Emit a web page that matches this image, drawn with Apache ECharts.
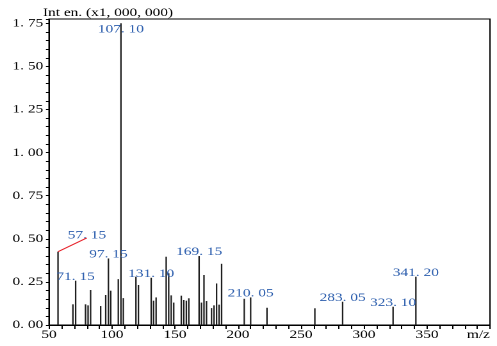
<!DOCTYPE html>
<html>
<head>
<meta charset="utf-8">
<script src="https://cdn.jsdelivr.net/npm/echarts@6/dist/echarts.min.js"></script>
<style>
  html, body { margin: 0; padding: 0; background: #fff; overflow: hidden; }
  /* the chart is laid out narrow and widened horizontally, giving the wide serif look */
  #chart { width: 388px; height: 346px; transform: scaleX(1.2809); transform-origin: 0 0; }
</style>
</head>
<body>
<div id="chart"></div>
<script>
// Mass spectrum peaks: m/z and intensity (x1,000,000)
const mzValues = [
  57.15, 69, 71.15, 79, 81, 83, 91, 95, 97.15, 99,
  105, 107.10, 109, 119, 121, 131.10, 133, 135, 143, 145,
  147, 149, 155, 157, 159, 161, 169.15, 171, 173, 175,
  179, 181, 183, 185, 187, 205, 210.05, 223, 261, 283.05,
  323.10, 341.20
];
const intensities = [
  0.425, 0.12, 0.257, 0.12, 0.114, 0.203, 0.11, 0.174, 0.386, 0.199,
  0.266, 1.75, 0.156, 0.28, 0.232, 0.274, 0.141, 0.16, 0.396, 0.30,
  0.172, 0.13, 0.17, 0.145, 0.141, 0.155, 0.40, 0.13, 0.29, 0.139,
  0.098, 0.114, 0.241, 0.118, 0.355, 0.152, 0.16, 0.10, 0.097, 0.135,
  0.106, 0.28
];
// peaks annotated with their m/z
const labeledPeaks = [57.15, 71.15, 97.15, 107.10, 131.10, 169.15, 210.05, 283.05, 323.10, 341.20];
// the 57.15 annotation sits up and to the right, joined by a red leader
const leaderPeak = 57.15;
const leaderEnd = [80, 0.505];
// the base peak label is drawn just under the top of its line
const basePeak = 107.10;

const xTicks = { min: 50, max: 400, step: 50 };
const yTicks = { min: 0, max: 1.775, step: 0.25 };

const serif = 'Times New Roman, Liberation Serif, serif';
const labelBlue = '#2c5eae';

const fmtMz = v => v.toFixed(2).replace('.', '. ');

const barData = mzValues.map((m, i) => {
  const item = { value: [m, intensities[i]] };
  const isLabeled = labeledPeaks.indexOf(m) >= 0;
  if (!isLabeled) {
    item.label = { show: false };
  } else if (m === leaderPeak) {
    item.label = { show: true, offset: [22.6, -12.6] };
  } else if (m === basePeak) {
    item.label = { show: true, distance: -12 };
  }
  return item;
});

const leaderIdx = mzValues.indexOf(leaderPeak);
const leaderData = [[mzValues[leaderIdx], intensities[leaderIdx]], leaderEnd];

const chart = echarts.init(document.getElementById('chart'), null, { renderer: 'canvas', devicePixelRatio: 2 });
chart.setOption({
  animation: false,
  backgroundColor: '#fff',
  title: {
    text: 'Int en. (x1, 000, 000)',
    left: 33.5, top: 7, padding: 0,
    textStyle: { fontFamily: serif, fontSize: 12, fontWeight: 'normal', color: '#000' }
  },
  grid: {
    left: 38.25, right: 5.5, top: 19, bottom: 21,
    show: true, borderColor: '#000', borderWidth: 1
  },
  xAxis: {
    type: 'value',
    min: xTicks.min, max: xTicks.max, interval: xTicks.step,
    axisLine: { show: true, lineStyle: { color: '#000', width: 1 } },
    axisTick: { show: true, length: 4, lineStyle: { color: '#000' } },
    minorTick: { show: true, splitNumber: 5, length: 4, lineStyle: { color: '#000' } },
    splitLine: { show: false },
    axisLabel: {
      margin: 4, fontFamily: serif, fontSize: 12, color: '#000',
      alignMaxLabel: 'right',
      formatter: v => (v === xTicks.max ? 'm/z' : String(v))
    }
  },
  yAxis: {
    type: 'value',
    min: yTicks.min, max: yTicks.max, interval: yTicks.step,
    axisLine: { show: true, lineStyle: { color: '#000', width: 1 } },
    axisTick: { show: true, length: 2.4, lineStyle: { color: '#000' } },
    minorTick: { show: true, splitNumber: 5, length: 2.4, lineStyle: { color: '#000' } },
    splitLine: { show: false },
    axisLabel: {
      margin: 4.5, fontFamily: serif, fontSize: 12, color: '#000',
      showMaxLabel: false,
      formatter: v => v.toFixed(2).replace('.', '. ')
    }
  },
  series: [
    {
      type: 'bar',
      barWidth: 1.15,
      itemStyle: { color: '#1e1e1e' },
      label: {
        show: true, position: 'top', distance: -2,
        fontFamily: serif, fontSize: 12, color: labelBlue,
        formatter: p => fmtMz(p.value[0])
      },
      data: barData,
      z: 2
    },
    {
      type: 'line',
      data: leaderData,
      symbol: 'none',
      silent: true,
      lineStyle: { color: '#e8222a', width: 1 },
      z: 3
    }
  ]
});
</script>
</body>
</html>
